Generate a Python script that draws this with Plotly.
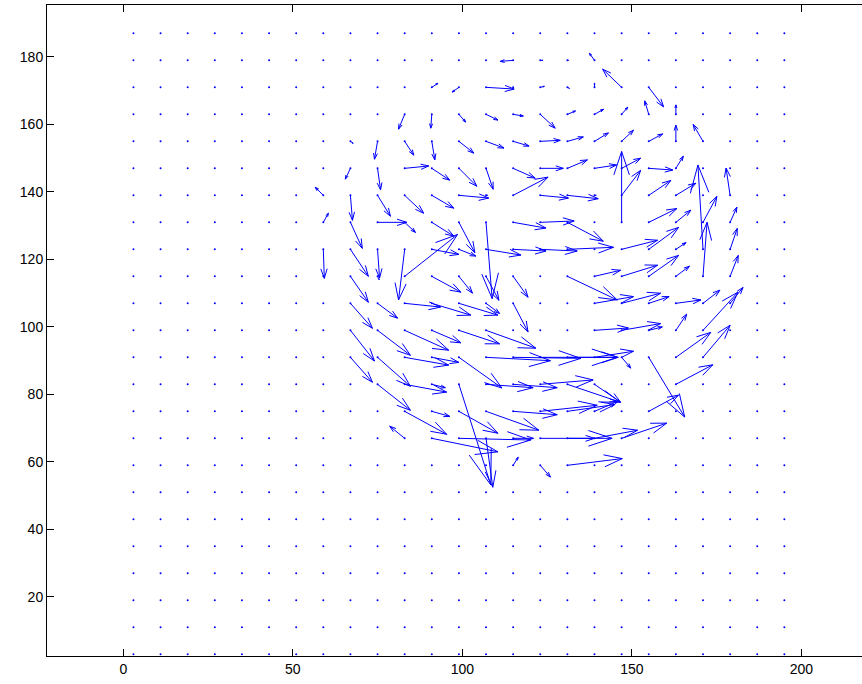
import plotly.graph_objects as go

# full grid of the quiver (every point shows at least a dot)
grid_x = list(range(3, 196, 8))
grid_y = list(range(3, 188, 8))

# sub-region where flow vectors are non-zero
cols_x = [59, 67, 75, 83, 91, 99, 107, 115, 123, 131, 139, 147, 155, 163, 171, 179, 187]
rows_y = [187, 179, 171, 163, 155, 147, 139, 131, 123, 115, 107, 99, 91, 83, 75, 67, 59, 51]

U = [
    [0]*17,
    [0,0,0,0,0,0,0,-3.8,0.8,0.3,-1.5,0,0,0,0,0,0],
    [0,0,0,0,1.8,-2.0,8.3,0,1.2,0.6,0,-5.6,4.4,0,0,0,0],
    [0,0,0,-1.8,-0.3,2.0,3.5,3.0,4.4,2.4,2.7,1.8,-1.2,0,0,0,0],
    [0,0.8,-0.9,2.7,0.9,4.4,5.3,4.7,5.9,4.7,4.1,3.5,4.1,0,-2.9,0,0],
    [0,-1.5,0.9,7.1,5.3,5.3,2.1,6.5,6.8,5.9,6.5,5.6,7.1,2.2,0,0,0],
    [-2.4,0.6,3.8,5.6,6.5,8.8,0.5,10.3,8.3,9.1,0.5,5.6,6.5,5.9,0,-1.2,0],
    [1.5,3.5,8.6,3.2,6.5,4.7,1.8,9.7,10.0,10.6,0,0,8.3,4.4,4.1,2.0,0],
    [0.3,5.3,0.6,-1.8,8.0,5.0,10.3,9.7,10.9,13.6,0,10.6,8.8,3.0,-1.5,2.1,0],
    [0,5.3,0.5,15.6,8.6,4.0,3.8,4.4,0,14.7,7.7,10.6,8.8,4.0,1.2,2.4,0],
    [0,6.5,5.9,10.6,11.5,11.5,4.0,4.4,0,0,11.5,11.5,6.0,7.4,5.0,3.8,0],
    [0,7.1,9.7,13.0,8.6,12.0,14.7,0,0,0,10.0,11.5,4.0,3.2,10.3,0,0],
    [0,6.5,9.7,13.0,8.0,12.7,19.0,20.0,22.7,15.0,11.5,2.7,10.6,10.3,8.0,0,0],
    [0,0,9.7,12.4,4.0,9.4,13.9,13.0,15.6,15.6,7.7,0,0,10.9,0,0,0],
    [0,0,0,12.4,5.3,11.5,15.6,13.0,16.8,14.0,7.0,0,8.8,0,0,0,0],
    [0,0,0,-4.4,19.5,21.2,2.0,6.0,21.2,8.0,12.7,13.3,0,0,0,0,0],
    [0,0,0,0,0,0,0,1.5,3.0,16.2,0,0,0,0,0,0,0],
    [0]*17,
]

V = [
    [0]*17,
    [0,0,0,0,0,0,0,-0.3,0,0,2.1,0,0,0,0,0,0],
    [0,0,0,0,1.2,-1.4,-0.5,0,0.3,-0.3,1.3,5.4,-5.8,0,0,0,0],
    [0,0,0,-4.4,-4.1,-2.3,-1.7,-0.5,-4.1,1.0,1.5,2.1,4.0,2.8,0,0,0],
    [0,-0.6,-5.3,-4.1,-5.5,-3.5,-2.0,-1.4,0.3,1.3,2.5,3.3,2.2,4.8,5.0,0,0],
    [0,-3.2,-6.4,0.7,-3.5,-5.3,-6.2,-2.9,0,2.5,1.0,3.0,-0.5,3.6,0,0,0],
    [2.4,-7.4,-6.2,-5.3,-3.8,-0.8,0,5.4,-0.8,-1.0,0,7.4,4.4,3.6,0,8.1,0],
    [2.7,-7.7,0,-3.0,-4.1,-9.0,-22.6,-1.7,0.4,-5.6,0,21.0,4.1,3.6,7.7,4.5,0],
    [-8.6,-8.0,-8.5,-15.0,-1.5,-2.0,-1.7,-0.5,-0.5,0.6,0,2.7,6.5,2.0,25.0,6.2,0],
    [0,-7.7,-1.0,12.4,-4.7,-5.0,-7.1,-6.2,0,-7.0,1.8,3.3,6.2,3.0,16.0,6.2,0],
    [0,-7.4,-4.4,-1.1,-3.5,-3.5,-3.0,-8.5,0,0,2.0,3.0,2.0,1.0,3.9,4.7,0],
    [0,-9.1,-7.4,-5.9,-3.7,-4.0,-5.3,0,0,0,0.7,2.0,1.0,4.8,11.3,0,0],
    [0,-7.4,-8.6,-2.3,-1.5,-9.1,-1.0,-0.3,0,0,1.8,-3.2,-17.7,7.4,9.5,0,0],
    [0,0,-7.7,-2.3,-1.0,-29.8,-1.0,-1.0,1.3,-5.3,-5.3,0,0,5.8,0,0,0],
    [0,0,0,-6.8,-1.5,-6.5,-5.6,-1.0,1.8,2.0,3.0,0,4.8,0,0,0,0],
    [0,0,0,3.6,-4.0,-0.5,-14.5,0,0,0,2.4,4.5,0,0,0,0,0],
    [0,0,0,0,0,0,0,2.4,-3.5,2.0,0,0,0,0,0,0,0],
    [0]*17,
]

x_ticks = [0, 50, 100, 150, 200]
y_ticks = [20, 40, 60, 80, 100, 120, 140, 160, 180]

ALPHA = 0.33
BETA = 0.33
BLUE = "#0000ff"

lx, ly = [], []
for i, y in enumerate(rows_y):
    for j, x in enumerate(cols_x):
        u, v = U[i][j], V[i][j]
        if u == 0 and v == 0:
            continue
        x1, y1 = x + u, y + v
        lx += [x, x1, None]
        ly += [y, y1, None]
        hx1 = x1 - ALPHA * (u + BETA * v)
        hy1 = y1 - ALPHA * (v - BETA * u)
        hx2 = x1 - ALPHA * (u - BETA * v)
        hy2 = y1 - ALPHA * (v + BETA * u)
        lx += [hx1, x1, hx2, None]
        ly += [hy1, y1, hy2, None]

dx, dy = [], []
for y in grid_y:
    for x in grid_x:
        dx.append(x)
        dy.append(y)

fig = go.Figure()
fig.add_trace(go.Scatter(x=dx, y=dy, mode="markers",
                         marker=dict(size=2, color=BLUE), hoverinfo="skip"))
fig.add_trace(go.Scatter(x=lx, y=ly, mode="lines",
                         line=dict(color=BLUE, width=1), hoverinfo="skip"))

axis_common = dict(showgrid=False, zeroline=False, showline=True, linecolor="#000000",
                   linewidth=1, ticks="inside", ticklen=7,
                   tickcolor="#000000", tickfont=dict(family="Liberation Sans, Arial", size=14, color="#000000"))
fig.update_xaxes(range=[-22.5, 217.9], tickvals=x_ticks, mirror="ticks", **axis_common)
fig.update_yaxes(range=[2.5, 195.4], tickvals=y_ticks, mirror=False, **axis_common)
fig.update_layout(width=862, height=684, margin=dict(l=47, r=0, t=5, b=28),
                  plot_bgcolor="white", paper_bgcolor="white", showlegend=False)
fig.write_html("out.html")
